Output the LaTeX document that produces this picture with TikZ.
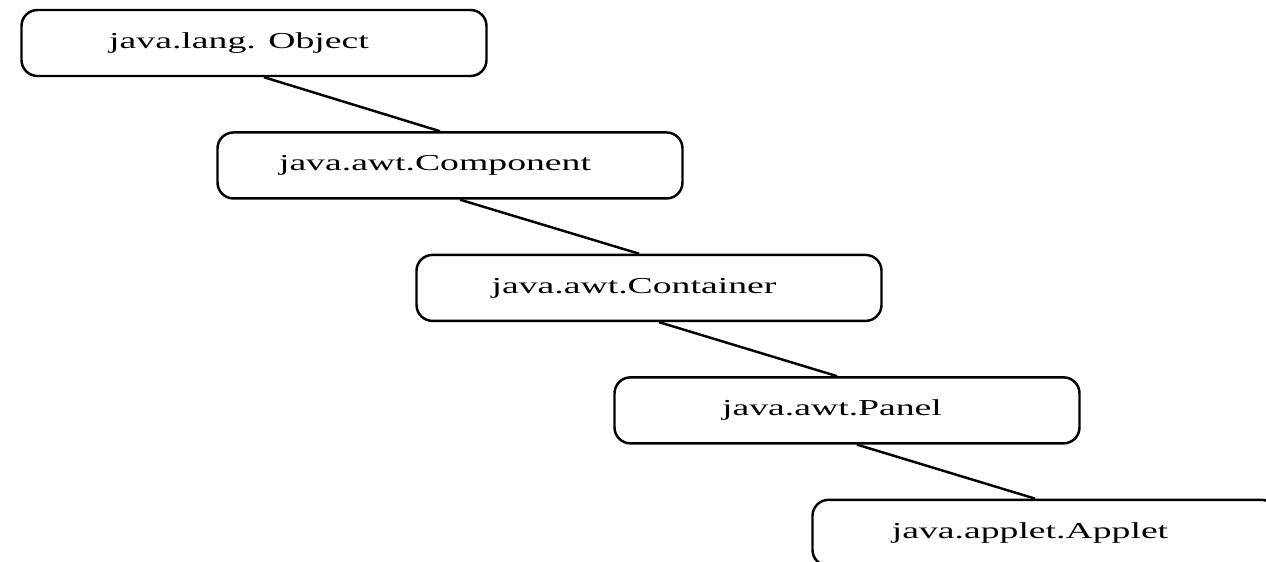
\documentclass[tikz,border=0pt]{standalone}
\usepackage{fontspec}
\setmainfont{Liberation Serif}[FakeStretch=1.65]
\usetikzlibrary{positioning}

\begin{document}
\begin{tikzpicture}
                [cls/.style={rectangle,draw,rounded corners=0.32cm,line width=1.4pt,
                minimum width=9.3cm,minimum height=1.32cm,
                font=\fontsize{13}{15}\selectfont,
                execute at end node={\hspace*{6mm}}},
                link/.style={line width=1.4pt},
                node distance=1.08cm]
                \useasboundingbox (0,0) rectangle (25.32,-11.24);
                \node[cls] (obj) at (5.08,-0.86){java.lang. Object};
                \node[cls,xshift=3.92cm] (comp)[below=of obj]{java.awt.Component};
                \node[cls,xshift=3.98cm] (cont)[below=of comp]{java.awt.Container};
                \node[cls,xshift=3.96cm] (panel)[below=of cont]{java.awt.Panel};
                \node[cls,xshift=3.96cm] (applet)[below=of panel]{java.applet.Applet};
                \foreach \a/\b in {obj/comp,comp/cont,cont/panel,panel/applet}
                    \draw[link] ([xshift=2mm]\a.south) -- ([xshift=-2mm]\b.north);
            \end{tikzpicture}
\end{document}
